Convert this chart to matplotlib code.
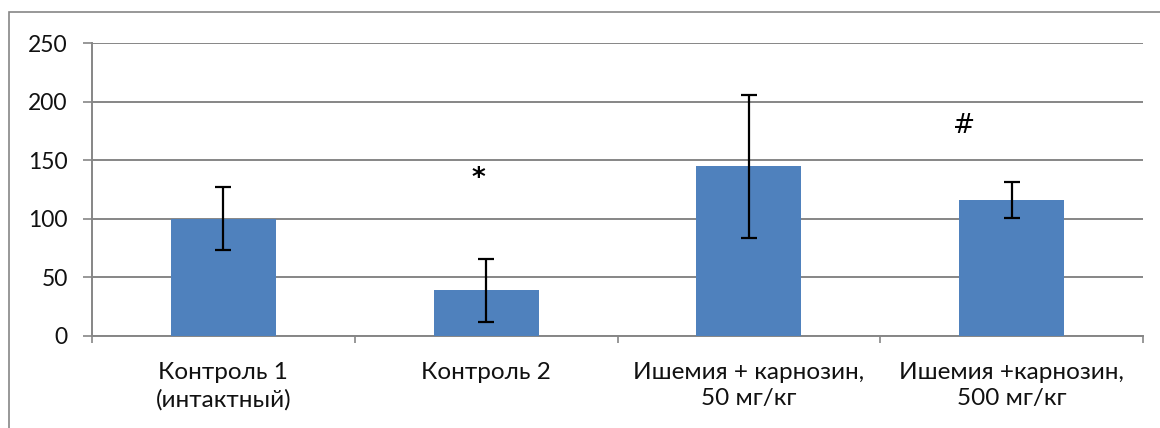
import matplotlib.pyplot as plt
from matplotlib.patches import Rectangle

groups = ["Контроль 1\n(интактный)", "Контроль 2",
          "Ишемия + карнозин,\n50 мг/кг", "Ишемия +карнозин,\n500 мг/кг"]
values = [100, 39, 145, 116]
errors = [27, 27, 61, 15]
marks = ["", "*", "", "#"]
mark_x = [0, 0.97, 0, 2.82]
mark_y = [0, 134, 0, 179]

GRID = "#868686"

plt.rcParams['font.family'] = ['Lato', 'DejaVu Sans']

fig = plt.figure(figsize=(11.6, 4.28), dpi=100)
ax = fig.add_axes([92 / 1160, 1 - 336 / 428, (1143 - 92) / 1160, (336 - 43) / 428])

# frame around the whole chart
fig.patches.append(Rectangle((9 / 1160, -0.1), 1.2, 1.1 - 12 / 428,
                             transform=fig.transFigure, fill=False,
                             edgecolor=GRID, linewidth=1.2))

x = list(range(len(groups)))
ax.bar(x, values, width=0.4, color="#4F81BD", zorder=3)
ax.errorbar(x, values, yerr=errors, fmt="none", ecolor="black",
            elinewidth=1.6, capsize=6, capthick=1.6, zorder=4)

for i, m in enumerate(marks):
    if m:
        ax.text(mark_x[i], mark_y[i], m, ha="center", va="center",
                fontsize=19, color="black", family="DejaVu Sans",
                fontweight="bold" if m == "*" else "normal")

ax.set_xlim(-0.5, len(groups) - 0.5)
ax.set_ylim(0, 250)
ax.set_yticks(range(0, 251, 50))
ax.yaxis.grid(True, color=GRID, linewidth=1.4, zorder=0)
ax.tick_params(axis="y", length=6.5, width=1.2, color=GRID, pad=11,
               labelsize=16.5, labelcolor="#111111")

# boundary ticks on the category axis, labels at the centres
ax.set_xticks([i - 0.5 for i in range(len(groups) + 1)])
ax.set_xticklabels([])
ax.tick_params(axis="x", which="major", length=5, width=1.2, color=GRID)
ax.set_xticks(x, minor=True)
ax.set_xticklabels(groups, minor=True, fontsize=17.5, linespacing=1.3)
ax.tick_params(axis="x", which="minor", length=0, pad=19,
               labelcolor="#111111")

for s in ["top", "right"]:
    ax.spines[s].set_visible(False)
for s in ["left", "bottom"]:
    ax.spines[s].set_color(GRID)
    ax.spines[s].set_linewidth(1.4)

fig.savefig("out.png", dpi=100)
